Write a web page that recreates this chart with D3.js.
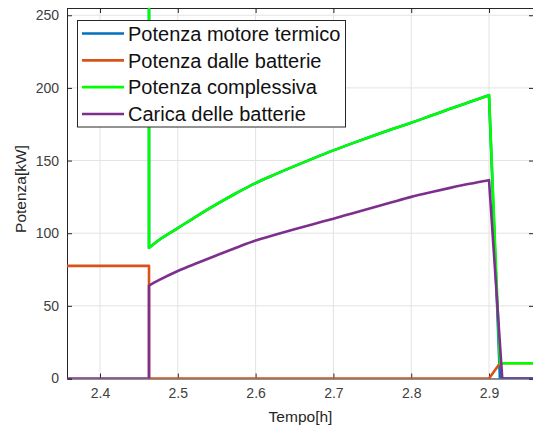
<!DOCTYPE html>
<html><head><meta charset="utf-8">
<script src="https://cdn.jsdelivr.net/npm/d3@7"></script>
<style>body{margin:0;background:#fff}svg{display:block}text{font-family:"Liberation Sans",Arial,sans-serif}</style>
</head><body><svg id="c" width="533" height="427"></svg>
<script>
// ---- data ----
const seriesNames = ["Potenza motore termico","Potenza dalle batterie","Potenza complessiva","Carica delle batterie"];
const seriesColors = ["#0072BD","#D95319","#00FF00","#7E2F8E"];
const xTicks = [2.4,2.5,2.6,2.7,2.8,2.9];
const yTicks = [0,50,100,150,200,250];
const xDomain = [2.3576, 2.9578];
const yDomain = [0, 255];
// total power
const tTot = [2.35, 2.463, 2.463, 2.475, 2.5, 2.525, 2.55, 2.575, 2.6, 2.625, 2.65, 2.675, 2.7, 2.725, 2.75, 2.775, 2.8, 2.825, 2.85, 2.875, 2.9, 2.914, 2.96];
const vTot = [357, 357, 90, 95, 103.5, 112, 120, 127.5, 134.5, 140.5, 146.2, 151.7, 157, 162, 166.8, 171.5, 176, 180.8, 185.6, 190.3, 195, 10.5, 10.5];
// motor (off-chart before switch, equal to total while batteries deliver nothing)
const tMotor = [2.35, 2.463, 2.463, 2.475, 2.5, 2.525, 2.55, 2.575, 2.6, 2.625, 2.65, 2.675, 2.7, 2.725, 2.75, 2.775, 2.8, 2.825, 2.85, 2.875, 2.9, 2.914, 2.96];
const vMotor = [280, 280, 90, 95, 103.5, 112, 120, 127.5, 134.5, 140.5, 146.2, 151.7, 157, 162, 166.8, 171.5, 176, 180.8, 185.6, 190.3, 195, 0, 0];
// battery output
const tBatt = [2.35, 2.463, 2.463, 2.9, 2.914, 2.96];
const vBatt = [77.5, 77.5, 0, 0, 10.5, 10.5];
// battery charging
const tCharge = [2.35, 2.463, 2.463, 2.475, 2.5, 2.525, 2.55, 2.575, 2.6, 2.625, 2.65, 2.675, 2.7, 2.725, 2.75, 2.775, 2.8, 2.825, 2.85, 2.875, 2.9, 2.917, 2.96];
const vCharge = [0, 0, 64, 67.5, 74, 79.5, 84.8, 90, 95, 98.9, 102.7, 106.4, 110, 113.8, 117.5, 121.3, 125, 128.2, 131.2, 134, 136.5, 0, 0];

const series = [[tMotor,vMotor],[tBatt,vBatt],[tTot,vTot],[tCharge,vCharge]];

// ---- layout ----
const L=67, T=8, R=534, B=378.5;
const svg = d3.select("#c");
const x = d3.scaleLinear().domain(xDomain).range([L,R]);
const y = d3.scaleLinear().domain(yDomain).range([B,T]);
const axisCol = "#262626";

// grid
const g = svg.append("g");
g.selectAll("line.gx").data(xTicks).enter().append("line")
  .attr("x1",d=>x(d)).attr("x2",d=>x(d)).attr("y1",T).attr("y2",B)
  .attr("stroke","#e3e3e3").attr("stroke-width",1);
g.selectAll("line.gy").data(yTicks).enter().append("line")
  .attr("x1",L).attr("x2",R).attr("y1",d=>y(d)).attr("y2",d=>y(d))
  .attr("stroke","#e3e3e3").attr("stroke-width",1);

// clip
svg.append("clipPath").attr("id","clip").append("rect")
  .attr("x",L).attr("y",T).attr("width",R-L).attr("height",B-T);

const linLine = d3.line().x(d=>x(d[0])).y(d=>y(d[1]));
const smoothLine = d3.line().x(d=>x(d[0])).y(d=>y(d[1])).curve(d3.curveMonotoneX);
function buildPath(pts){
  let d = "";
  let run = [pts[0]];
  const flush = () => { if (run.length>1) d += (run.length>2 ? smoothLine(run) : linLine(run)); };
  for (let i=1;i<pts.length;i++){
    const dt = pts[i][0]-pts[i-1][0], dv = Math.abs(pts[i][1]-pts[i-1][1]);
    const smoothStep = dt>0 && dt<=0.03 && dv < 20;
    if (smoothStep) { run.push(pts[i]); }
    else { flush(); d += linLine([pts[i-1],pts[i]]); run=[pts[i]]; }
  }
  flush();
  return d;
}
const lines = svg.append("g").attr("clip-path","url(#clip)");

// axes (ticks inward)
const fmt = d3.format(".1f");
const ax = svg.append("g").attr("transform",`translate(0,${B})`)
  .call(d3.axisBottom(x).tickValues(xTicks).tickFormat(fmt).tickSize(-5).tickPadding(10));
const axTop = svg.append("g").attr("transform",`translate(0,${T})`)
  .call(d3.axisTop(x).tickValues(xTicks).tickFormat("").tickSize(-5));
const ay = svg.append("g").attr("transform",`translate(${L},0)`)
  .call(d3.axisLeft(y).tickValues(yTicks).tickSize(-5).tickPadding(8));
const ayR = svg.append("g").attr("transform",`translate(${R},0)`)
  .call(d3.axisRight(y).tickValues(yTicks).tickFormat("").tickSize(-5));
[ax,axTop,ay,ayR].forEach(a=>{
  a.select(".domain").attr("stroke",axisCol).attr("stroke-width",1);
  a.selectAll(".tick line").attr("stroke",axisCol);
  a.selectAll(".tick text").attr("fill","#404040").style("font-size","14px")
   .style("font-family",'"Liberation Sans",Arial,sans-serif');
});

series.forEach((s,i)=>{
  const pts = s[0].map((t,j)=>[t,s[1][j]]);
  lines.append("path").attr("d",buildPath(pts))
    .attr("fill","none").attr("stroke",seriesColors[i]).attr("stroke-width",2.6)
    .attr("stroke-linejoin","round").attr("stroke-linecap","round");
});
lines.raise();

// axis labels
svg.append("text").attr("x",(L+R)/2).attr("y",422).attr("text-anchor","middle")
  .attr("fill","#262626").style("font-size","15.5px").text("Tempo[h]");
svg.append("text").attr("transform","translate(26,189) rotate(-90)").attr("text-anchor","middle")
  .attr("fill","#262626").style("font-size","15.5px").text("Potenza[kW]");

// legend
const lg = svg.append("g");
lg.append("rect").attr("x",77.5).attr("y",20.5).attr("width",268).attr("height",106.5)
  .attr("fill","#fff").attr("stroke",axisCol).attr("stroke-width",1);
const legY = d3.scalePoint().domain(seriesNames).range([33.5,114]);
seriesNames.forEach((n,i)=>{
  lg.append("line").attr("x1",82).attr("x2",124).attr("y1",legY(n)).attr("y2",legY(n))
    .attr("stroke",seriesColors[i]).attr("stroke-width",2.6);
  lg.append("text").attr("x",128).attr("y",legY(n)).attr("dy","0.36em")
    .attr("fill","#111").style("font-size","20px").text(n);
});
</script></body></html>
